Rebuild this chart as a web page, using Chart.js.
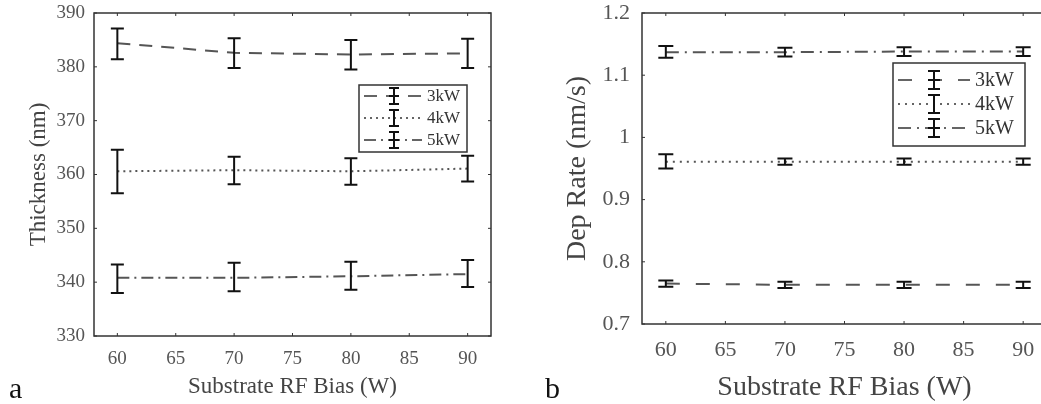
<!DOCTYPE html>
<html>
<head>
<meta charset="utf-8">
<script src="https://cdn.jsdelivr.net/npm/chart.js@4.4.1/dist/chart.umd.min.js"></script>
<style>
  html, body { margin: 0; padding: 0; background: #fff; }
  body { width: 1041px; height: 404px; overflow: hidden; position: relative; }
  .wrap { position: absolute; top: 0; }
  .tag { position: absolute; font-family: 'Liberation Serif', serif; font-size: 30px; line-height: 1; color: #111; }
</style>
</head>
<body>
<div class="wrap" style="left:0"><canvas id="graphA" width="520" height="404"></canvas></div>
<div class="wrap" style="left:520px"><canvas id="graphB" width="560" height="404"></canvas></div>
<div class="tag" style="left:9px; top:373px">a</div>
<div class="tag" style="left:545px; top:373px">b</div>
<script>
// shared x values and tick labels
const biasW = [60, 70, 80, 90];
const xTicks = [60, 65, 70, 75, 80, 85, 90];
const seriesNames = ['3kW', '4kW', '5kW'];

// (a) thickness, nm
const thick3 = [384.4, 382.6, 382.3, 382.5];
const thick3Lo = [381.4, 379.8, 379.5, 379.8];
const thick3Hi = [387.1, 385.3, 385.0, 385.2];
const thick4 = [360.6, 360.8, 360.6, 361.1];
const thick4Lo = [356.5, 358.2, 358.1, 358.7];
const thick4Hi = [364.6, 363.3, 363.0, 363.5];
const thick5 = [340.8, 340.8, 341.1, 341.5];
const thick5Lo = [338.0, 338.3, 338.6, 339.1];
const thick5Hi = [343.3, 343.6, 343.8, 344.1];
const thickTicks = [330, 340, 350, 360, 370, 380, 390];

// (b) deposition rate, nm/s
const rate3 = [0.765, 0.763, 0.763, 0.763];
const rate3Lo = [0.760, 0.758, 0.758, 0.758];
const rate3Hi = [0.770, 0.768, 0.768, 0.768];
const rate4 = [0.961, 0.961, 0.961, 0.961];
const rate4Lo = [0.950, 0.956, 0.956, 0.956];
const rate4Hi = [0.973, 0.966, 0.966, 0.966];
const rate5 = [1.137, 1.137, 1.138, 1.138];
const rate5Lo = [1.128, 1.130, 1.131, 1.131];
const rate5Hi = [1.147, 1.144, 1.145, 1.145];
const rateTicks = [0.7, 0.8, 0.9, 1, 1.1, 1.2];

const serif = "'Liberation Serif', 'DejaVu Serif', serif";

// error bars + inward box ticks + hand drawn legend
const errorBars = {
    id: 'errorBars',
    afterDatasetsDraw(chart, args, opts) {
        const ctx = chart.ctx;
        const xs = chart.scales.x, ys = chart.scales.y;
        ctx.save();
        ctx.strokeStyle = '#111';
        ctx.lineWidth = 2;
        ctx.setLineDash([]);
        opts.lo.forEach((lo, i) => {
            const hi = opts.hi[i];
            biasW.forEach((w, j) => {
                const px = xs.getPixelForValue(w);
                const y1 = ys.getPixelForValue(lo[j]);
                const y2 = ys.getPixelForValue(hi[j]);
                ctx.beginPath();
                ctx.moveTo(px, y1); ctx.lineTo(px, y2);
                ctx.moveTo(px - opts.cap, y1); ctx.lineTo(px + opts.cap, y1);
                ctx.moveTo(px - opts.cap, y2); ctx.lineTo(px + opts.cap, y2);
                ctx.stroke();
            });
        });
        ctx.restore();
    },
    afterDraw(chart, args, opts) {
        const ctx = chart.ctx;
        const a = chart.chartArea;
        const xs = chart.scales.x, ys = chart.scales.y;
        ctx.save();
        ctx.setLineDash([]);
        ctx.strokeStyle = '#333';
        ctx.lineWidth = 1.5;
        ctx.strokeRect(a.left, a.top, a.right - a.left, a.bottom - a.top);
        ctx.lineWidth = 1;
        xs.ticks.forEach(t => {
            const px = xs.getPixelForValue(t.value);
            ctx.beginPath();
            ctx.moveTo(px, a.bottom); ctx.lineTo(px, a.bottom - 3);
            ctx.moveTo(px, a.top); ctx.lineTo(px, a.top + 3);
            ctx.stroke();
        });
        ys.ticks.forEach(t => {
            const py = ys.getPixelForValue(t.value);
            ctx.beginPath();
            ctx.moveTo(a.left, py); ctx.lineTo(a.left + 3, py);
            ctx.moveTo(a.right, py); ctx.lineTo(a.right - 3, py);
            ctx.stroke();
        });

        // legend
        const L = opts.legend;
        ctx.fillStyle = '#fff';
        ctx.fillRect(L.x, L.y, L.w, L.h);
        ctx.strokeStyle = '#333';
        ctx.lineWidth = 1.5;
        ctx.strokeRect(L.x, L.y, L.w, L.h);
        ctx.font = L.size + 'px ' + serif;
        ctx.textBaseline = 'middle';
        ctx.textAlign = 'left';
        seriesNames.forEach((name, i) => {
            const ry = L.y + L.rows[i];
            ctx.strokeStyle = '#333';
            ctx.lineWidth = 1.5;
            ctx.setLineDash(opts.dashes[i]);
            ctx.beginPath();
            ctx.moveTo(L.x + L.lineFrom, ry); ctx.lineTo(L.x + L.lineTo, ry);
            ctx.stroke();
            ctx.setLineDash([]);
            ctx.strokeStyle = '#111';
            ctx.lineWidth = 2;
            const ix = L.x + L.icon;
            ctx.beginPath();
            ctx.moveTo(ix, ry - L.bar); ctx.lineTo(ix, ry + L.bar);
            ctx.moveTo(ix - L.cap, ry - L.bar); ctx.lineTo(ix + L.cap, ry - L.bar);
            ctx.moveTo(ix - L.cap, ry + L.bar); ctx.lineTo(ix + L.cap, ry + L.bar);
            if (i !== 1) { ctx.moveTo(ix - L.cap, ry); ctx.lineTo(ix + L.cap, ry); }
            ctx.stroke();
            ctx.fillStyle = '#333';
            ctx.fillText(name, L.x + L.text, ry + 1);
        });
        ctx.restore();
    }
};

function makeDatasets(vals, dashes) {
    return vals.map((v, i) => ({
        label: seriesNames[i],
        data: biasW.map((w, j) => ({ x: w, y: v[j] })),
        borderColor: '#555',
        borderWidth: 2,
        borderDash: dashes[i],
        pointRadius: 0,
        tension: 0,
        fill: false
    }));
}

function makeConfig(o) {
    return {
        type: 'line',
        data: { datasets: makeDatasets(o.vals, o.dashes) },
        options: {
            responsive: false,
            animation: false,
            devicePixelRatio: 1,
            layout: { padding: o.padding },
            plugins: {
                legend: { display: false },
                tooltip: { enabled: false },
                errorBars: { lo: o.lo, hi: o.hi, cap: o.cap, legend: o.legend, dashes: o.dashes }
            },
            scales: {
                x: {
                    type: 'linear',
                    min: 58, max: 92,
                    grid: { display: false, drawTicks: false },
                    border: { display: false },
                    afterBuildTicks: s => { s.ticks = xTicks.map(v => ({ value: v })); },
                    afterFit: s => { s.height = o.xHeight; s.paddingLeft = 0; s.paddingRight = 0; },
                    ticks: {
                        padding: o.xPad,
                        color: '#555',
                        font: { family: serif, size: o.tickSize },
                        maxRotation: 0
                    },
                    title: {
                        display: true,
                        text: 'Substrate RF Bias (W)',
                        color: '#444',
                        font: { family: serif, size: o.titleSize },
                        padding: { top: 0, bottom: o.xTitlePad }
                    }
                },
                y: {
                    min: o.yTicks[0], max: o.yTicks[o.yTicks.length - 1],
                    grid: { display: false, drawTicks: false },
                    border: { display: false },
                    afterBuildTicks: s => { s.ticks = o.yTicks.map(v => ({ value: v })); },
                    afterFit: s => { s.width = o.yWidth; s.paddingTop = 0; s.paddingBottom = 0; },
                    ticks: {
                        padding: o.yPad,
                        color: '#555',
                        font: { family: serif, size: o.tickSize },
                        callback: v => String(v)
                    },
                    title: {
                        display: true,
                        text: o.yTitle,
                        color: '#444',
                        font: { family: serif, size: o.titleSize },
                        padding: { top: o.yTitlePad, bottom: 0 }
                    }
                }
            }
        },
        plugins: [errorBars]
    };
}

const chartA = new Chart(document.getElementById('graphA'), makeConfig({
    vals: [thick3, thick4, thick5],
    lo: [thick3Lo, thick4Lo, thick5Lo],
    hi: [thick3Hi, thick4Hi, thick5Hi],
    yTicks: thickTicks,
    yTitle: 'Thickness (nm)',
    dashes: [[13, 9], [2, 4], [12, 5, 2, 5]],
    padding: { left: 0, top: 13, right: 29, bottom: 0 },
    xHeight: 68, yWidth: 94,
    xPad: 12, yPad: 9,
    tickSize: 19, titleSize: 23,
    xTitlePad: 3, yTitlePad: 25,
    cap: 6.5,
    legend: { x: 359, y: 85, w: 108, h: 67, rows: [11, 33, 55], lineFrom: 5, lineTo: 63, icon: 35, text: 68, size: 17, bar: 8, cap: 5 }
}));

const chartB = new Chart(document.getElementById('graphB'), makeConfig({
    vals: [rate3, rate4, rate5],
    lo: [rate3Lo, rate4Lo, rate5Lo],
    hi: [rate3Hi, rate4Hi, rate5Hi],
    yTicks: rateTicks,
    yTitle: 'Dep Rate (nm/s)',
    dashes: [[14, 16], [2, 5], [13, 6, 2, 6]],
    padding: { left: 0, top: 13, right: 33, bottom: 0 },
    xHeight: 80, yWidth: 122,
    xPad: 13, yPad: 12,
    tickSize: 22, titleSize: 28,
    xTitlePad: 0, yTitlePad: 41,
    cap: 7.5,
    legend: { x: 373, y: 63, w: 132, h: 83, rows: [17, 41, 65], lineFrom: 5, lineTo: 77, icon: 41, text: 82, size: 20, bar: 9, cap: 6 }
}));
</script>
</body>
</html>
